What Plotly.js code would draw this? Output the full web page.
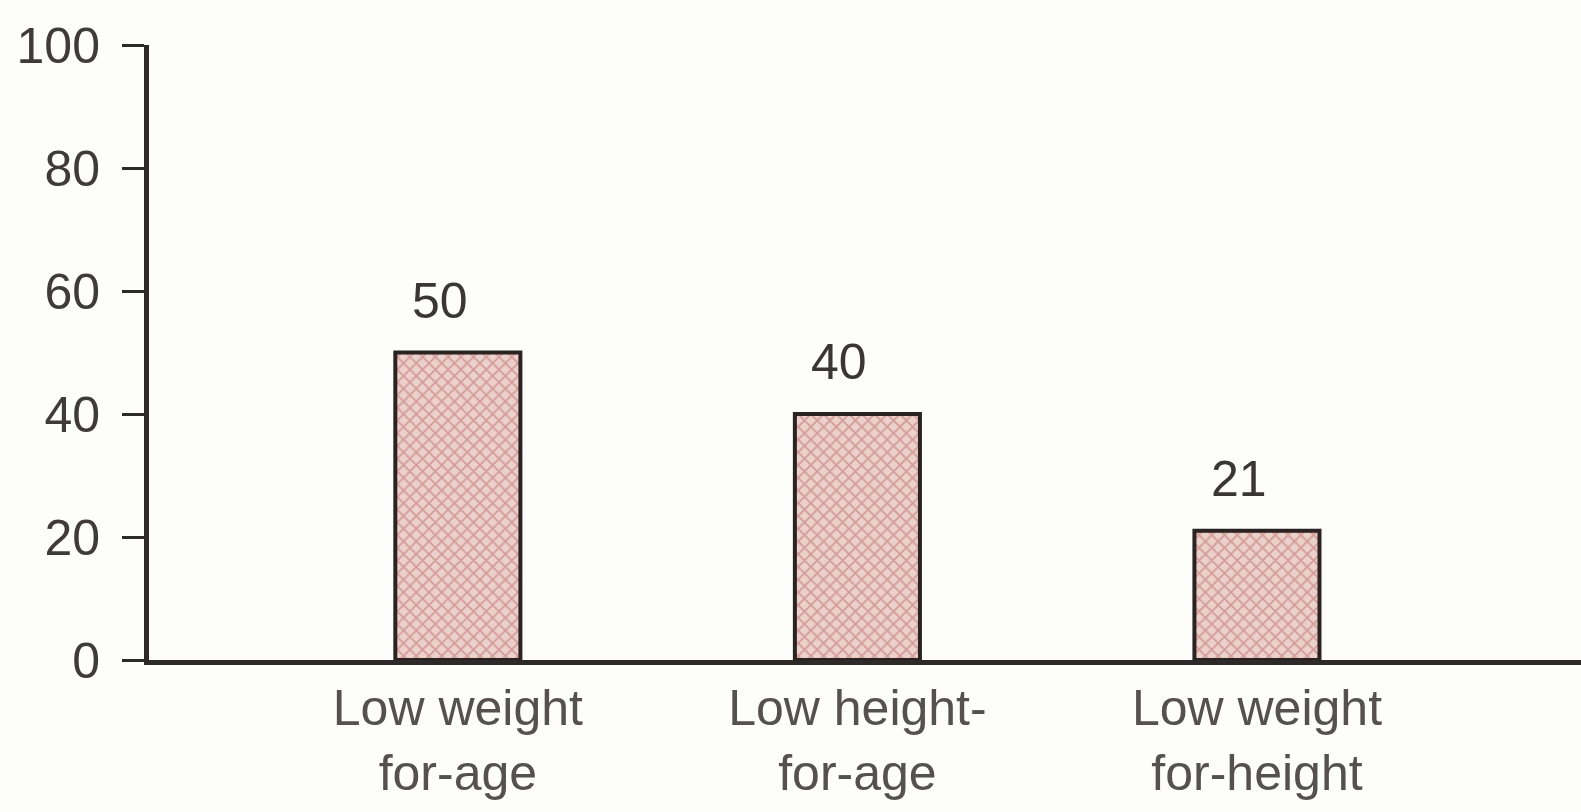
<!DOCTYPE html>
<html>
<head>
<meta charset="utf-8">
<script src="https://cdn.plot.ly/plotly-3.0.1.min.js"></script>
<style>
  html, body { margin: 0; padding: 0; background: #fdfdfb; }
  #chart { width: 1581px; height: 812px; }
</style>
</head>
<body>
<div id="chart"></div>
<script>
// Prevalence of undernutrition indicators (%)
const categories = ["Low weight<br>for-age", "Low height-<br>for-age", "Low weight<br>for-height"];
const values = [50, 40, 21];
const yTickValues = [0, 20, 40, 60, 80, 100];

const axisColor = "#2e2a2a";
const textFont = "Liberation Sans, Arial, sans-serif";

const bars = {
  type: "bar",
  x: categories,
  y: values,
  width: 0.313,
  marker: {
    color: "#e6c2bd",
    line: { color: "#2b2222", width: 4 },
    pattern: { shape: "x", fgcolor: "#d29c97", bgcolor: "#ecd0cb", size: 9, solidity: 0.35 }
  },
  hoverinfo: "x+y"
};

// Value labels placed above each bar
const valueLabels = categories.map((c, i) => ({
  x: c,
  y: values[i],
  text: String(values[i]),
  showarrow: false,
  xanchor: "center",
  yanchor: "bottom",
  xshift: -18,
  yshift: 22,
  font: { family: textFont, size: 50, color: "#3a3636" }
}));

const layout = {
  width: 1581,
  height: 812,
  paper_bgcolor: "#fdfdfb",
  plot_bgcolor: "#fdfdfb",
  margin: { l: 149, r: 0, t: 45, b: 152 },
  showlegend: false,
  bargap: 0,
  xaxis: {
    type: "category",
    range: [-0.773, 2.811],
    showline: true,
    linecolor: axisColor,
    linewidth: 5,
    ticks: "",
    showgrid: false,
    zeroline: false,
    tickfont: { family: textFont, size: 50, color: "#555151" },
    ticklabelstandoff: 0
  },
  yaxis: {
    range: [0, 100],
    tickvals: yTickValues,
    ticktext: yTickValues.map(String),
    showline: true,
    linecolor: axisColor,
    linewidth: 5,
    ticks: "outside",
    ticklen: 22,
    tickwidth: 3,
    tickcolor: axisColor,
    showgrid: false,
    zeroline: false,
    tickfont: { family: textFont, size: 50, color: "#3f3b3b" },
    ticklabelstandoff: 12
  },
  annotations: valueLabels
};

Plotly.newPlot("chart", [bars], layout, { displayModeBar: false, staticPlot: true });
</script>
</body>
</html>
